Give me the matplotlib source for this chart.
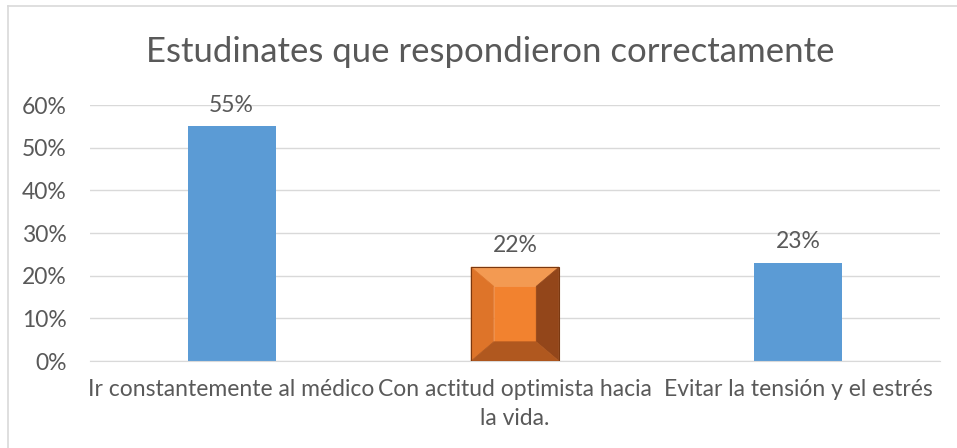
import matplotlib
matplotlib.use("Agg")
import matplotlib.pyplot as plt
from matplotlib.patches import Polygon
from matplotlib.lines import Line2D

plt.rcParams['font.family'] = ['Lato', 'DejaVu Sans']

categories = ["Ir constantemente al médico",
              "Con actitud optimista hacia\nla vida.",
              "Evitar la tensión y el estrés"]
values = [0.55, 0.22, 0.23]
labels = ["55%", "22%", "23%"]
yticks = [0, 0.1, 0.2, 0.3, 0.4, 0.5, 0.6]

text_col = "#595959"
blue = "#5B9BD5"

fig = plt.figure(figsize=(9.57, 4.48), dpi=100)
ax = fig.add_axes([90 / 957, 1 - 361 / 448, 850 / 957, 256 / 448])

x = list(range(len(categories)))
width = 0.31
bars = ax.bar(x, values, width=width, color=blue, zorder=2)

# the middle bar is a bevelled orange block
b = bars[1]
b.set_visible(False)
x0, x1 = b.get_x(), b.get_x() + b.get_width()
y0, y1 = 0, b.get_height()
dx = 0.08
dy = 0.045
ix0, ix1, iy0, iy1 = x0 + dx, x1 - dx, y0 + dy, y1 - dy
faces = [
    ([(ix0, iy0), (ix1, iy0), (ix1, iy1), (ix0, iy1)], "#F2822F"),
    ([(x0, y1), (x1, y1), (ix1, iy1), (ix0, iy1)], "#F39A52"),
    ([(x0, y0), (ix0, iy0), (ix0, iy1), (x0, y1)], "#DE7429"),
    ([(x1, y0), (x1, y1), (ix1, iy1), (ix1, iy0)], "#93461A"),
    ([(x0, y0), (x1, y0), (ix1, iy0), (ix0, iy0)], "#B0581F"),
]
for pts, c in faces:
    ax.add_patch(Polygon(pts, closed=True, facecolor=c, edgecolor=c,
                         linewidth=0.5, zorder=3))
ax.add_patch(Polygon([(x0, y0), (x1, y0), (x1, y1), (x0, y1)], closed=True,
                     fill=False, edgecolor="#7A3810", linewidth=0.8, zorder=4))

for xi, v, lab in zip(x, values, labels):
    ax.text(xi, v + 0.025, lab, ha="center", va="bottom", fontsize=16.5,
            color=text_col)

ax.set_xlim(-0.5, 2.5)
ax.set_ylim(0, 0.6)
ax.set_yticks(yticks)
ax.set_yticklabels([f"{int(round(t * 100))}%" for t in yticks])
ax.set_xticks(x)
ax.set_xticklabels(categories, linespacing=1.45)
ax.tick_params(axis="both", length=0, labelsize=16.5, labelcolor=text_col)
ax.tick_params(axis="y", pad=17)
ax.tick_params(axis="x", pad=13)
ax.yaxis.grid(True, color="#D9D9D9", linewidth=1, zorder=0)
ax.set_axisbelow(True)
for s in ["top", "right", "left"]:
    ax.spines[s].set_visible(False)
ax.spines["bottom"].set_color("#D9D9D9")

fig.text(490 / 957, 1 - 52 / 448, "Estudinates que respondieron correctamente",
         ha="center", va="center", fontsize=25, color=text_col)

# chart frame
fig.add_artist(Line2D([8 / 957, 1], [1 - 6 / 448, 1 - 6 / 448],
                      transform=fig.transFigure, color="#D9D9D9", linewidth=1.2))
fig.add_artist(Line2D([8 / 957, 8 / 957], [0, 1 - 6 / 448],
                      transform=fig.transFigure, color="#D9D9D9", linewidth=1.2))

fig.savefig("out.png", dpi=100)
